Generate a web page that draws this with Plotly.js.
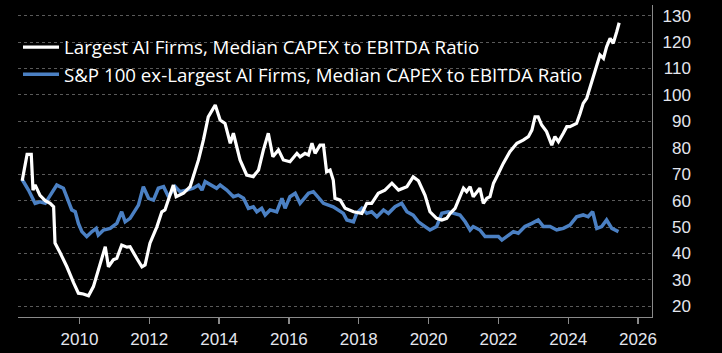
<!DOCTYPE html>
<html>
<head>
<meta charset="utf-8">
<script src="https://cdn.plot.ly/plotly-3.0.1.min.js"></script>
<style>
html,body{margin:0;padding:0;background:#000;}
#chart{width:722px;height:353px;}
</style>
</head>
<body>
<div id="chart"></div>
<script>
// Largest AI Firms, Median CAPEX to EBITDA Ratio (decimal years, ratio %)
var aiYears = [2008.36,2008.45,2008.50,2008.62,2008.67,2008.73,2008.87,2009.02,2009.16,2009.26,2009.30,2009.45,2009.64,2009.83,2009.97,2010.11,2010.26,2010.40,2010.59,2010.74,2010.83,2010.97,2011.07,2011.21,2011.36,2011.45,2011.64,2011.79,2011.88,2012.02,2012.22,2012.36,2012.45,2012.60,2012.69,2012.77,2012.98,2013.17,2013.41,2013.55,2013.69,2013.89,2014.03,2014.17,2014.32,2014.41,2014.51,2014.60,2014.79,2014.98,2015.13,2015.27,2015.41,2015.54,2015.70,2015.84,2016.03,2016.23,2016.32,2016.46,2016.56,2016.66,2016.75,2016.89,2016.99,2017.08,2017.18,2017.27,2017.32,2017.47,2017.61,2017.85,2018.09,2018.23,2018.37,2018.56,2018.75,2018.95,2019.14,2019.38,2019.56,2019.71,2019.90,2020.04,2020.23,2020.38,2020.52,2020.62,2020.76,2020.90,2021.00,2021.09,2021.19,2021.28,2021.38,2021.47,2021.57,2021.67,2021.76,2021.86,2022.00,2022.14,2022.33,2022.53,2022.71,2022.86,2022.96,2023.05,2023.14,2023.24,2023.38,2023.53,2023.62,2023.72,2023.86,2023.96,2024.05,2024.15,2024.24,2024.34,2024.43,2024.53,2024.67,2024.82,2024.91,2025.01,2025.10,2025.20,2025.29,2025.39,2025.46];
var aiValues = [67.5,75,77.5,77.5,64,66,62,60,59,57.7,44,40.2,35,29,25,24.7,24,27.5,36.3,42.6,35,37.6,38.2,43.2,42.4,42.6,38.2,35,35.7,43.9,50.2,55.8,56.5,62.8,65.9,61.5,62.8,65.3,75.4,82.9,91.7,96.2,90.5,89.2,81.7,85.5,80.4,75.4,69.7,69.1,71.6,79.2,85.5,76.6,79.2,75.4,74.7,77.9,76.6,77.9,77.3,81.7,77.9,81,81,70.9,71.6,67.8,60.9,60.2,57.1,55.8,55.2,59,59,62.8,64,66.6,64,65.3,69,67.5,62,55.8,53.3,52.7,53.3,55.2,57.1,61.5,64.7,63.4,65.3,61.5,63.4,64.7,59,60.9,61.5,66.6,70.3,74.1,78.5,81.7,82.9,84.2,86.7,91.7,91.7,88.6,86.1,81,84.2,82.3,85.5,88,88,88.6,89.2,93,96.8,98.7,104.4,110.6,115.1,113.8,118.2,121.4,119.5,123.9,127.3];

// S&P 100 ex-Largest AI Firms, Median CAPEX to EBITDA Ratio
var exYears = [2008.36,2008.54,2008.73,2008.87,2009.02,2009.16,2009.35,2009.54,2009.69,2009.78,2009.88,2009.97,2010.07,2010.21,2010.36,2010.48,2010.54,2010.69,2010.88,2011.07,2011.21,2011.31,2011.45,2011.69,2011.83,2011.98,2012.12,2012.26,2012.41,2012.55,2012.74,2012.88,2013.08,2013.26,2013.41,2013.51,2013.60,2013.79,2013.93,2014.03,2014.22,2014.41,2014.55,2014.70,2014.84,2014.98,2015.08,2015.22,2015.32,2015.46,2015.65,2015.80,2015.89,2016.03,2016.18,2016.32,2016.56,2016.70,2016.84,2016.99,2017.27,2017.56,2017.66,2017.85,2017.94,2018.09,2018.23,2018.37,2018.52,2018.71,2018.85,2019.04,2019.23,2019.38,2019.56,2019.71,2019.90,2020.04,2020.23,2020.38,2020.57,2020.76,2020.90,2021.05,2021.19,2021.28,2021.47,2021.62,2021.81,2022.00,2022.10,2022.24,2022.43,2022.57,2022.76,2022.96,2023.14,2023.29,2023.48,2023.67,2023.86,2024.05,2024.24,2024.43,2024.57,2024.70,2024.82,2024.96,2025.10,2025.25,2025.44];
var exValues = [68,64,59,59.6,59,62.1,65.9,64.7,59.6,56.5,55.8,51.4,48.3,46.4,48.3,49.5,47,48.9,49.5,51.4,55.8,52,53.3,58.3,65.3,60.9,60.2,64.7,65.3,61.5,65.3,63.4,64,64.7,65.9,64,67.2,65.9,64.7,65.9,64,61.5,62.1,60.9,57.1,57.7,55.8,57.1,54.6,56.5,55.8,60.9,57.1,61.5,62.8,59,62.8,63.4,61.5,59,57.7,55.2,52.7,52,55.2,57.1,55.2,55.8,53.9,56.5,55.2,57.7,59,55.8,54.5,52,50.2,48.9,50.2,55.2,55.8,55.2,54.6,52,48.9,50.2,48.9,46.4,46.4,46.4,45.1,46.4,48.3,47.7,50.2,51.4,52.7,50.2,50.2,48.9,49.5,50.8,53.9,54.6,53.9,55.8,49.5,50.2,52.7,49.5,48.3];

var seriesNames = ["Largest AI Firms, Median CAPEX to EBITDA Ratio",
                   "S&P 100 ex-Largest AI Firms, Median CAPEX to EBITDA Ratio"];
var xTicks = [2010,2012,2014,2016,2018,2020,2022,2024,2026];
var yTicks = [20,30,40,50,60,70,80,90,100,110,120,130];

var yRange = [16.0, 134.0];
var tickFont = {family: "Liberation Sans, Arial, sans-serif", size: 17, color: "#e4e6ee"};

var traces = [
  {x: exYears, y: exValues, name: seriesNames[1], type: "scatter", mode: "lines",
   line: {color: "#4b80c3", width: 3.5}},
  {x: aiYears, y: aiValues, name: seriesNames[0], type: "scatter", mode: "lines",
   line: {color: "#ffffff", width: 3.2}},
  {x: [null], y: [null], yaxis: "y2", showlegend: false, hoverinfo: "skip", type: "scatter", mode: "lines"}
];

var layout = {
  width: 722, height: 353,
  paper_bgcolor: "#000000", plot_bgcolor: "#000000",
  margin: {l: 18, r: 25, t: 5, b: 36},
  showlegend: true,
  legend: {
    x: 0.0, y: 0.925, xanchor: "left", yanchor: "top",
    bgcolor: "rgba(0,0,0,0)", traceorder: "reversed",
    font: {family: "Open Sans, sans-serif", size: 18.7, color: "#ffffff"},
    itemwidth: 36, tracegroupgap: 0
  },
  xaxis: {
    domain: [0, 0.9337], range: [2008.24, 2026.4],
    tickvals: xTicks, ticktext: xTicks.map(String),
    showgrid: false, zeroline: false,
    showline: true, linecolor: "#8a8a8a", linewidth: 1.2,
    ticks: "outside", ticklen: 6, tickcolor: "#8a8a8a", tickwidth: 1.2,
    tickfont: tickFont
  },
  yaxis: {
    range: yRange, side: "right", tickvals: yTicks,
    showticklabels: false, ticks: "",
    showgrid: true, gridcolor: "#5a5a5a", gridwidth: 1, griddash: "dot",
    zeroline: false, showline: true, linecolor: "#8a8a8a", linewidth: 1.2
  },
  yaxis2: {
    range: yRange, overlaying: "y", side: "left", anchor: "free", position: 0.991,
    tickvals: yTicks, ticktext: yTicks.map(String),
    showgrid: false, zeroline: false, showline: false, ticks: "",
    tickfont: tickFont
  }
};

Plotly.newPlot("chart", traces, layout, {staticPlot: true, displayModeBar: false});
</script>
</body>
</html>
